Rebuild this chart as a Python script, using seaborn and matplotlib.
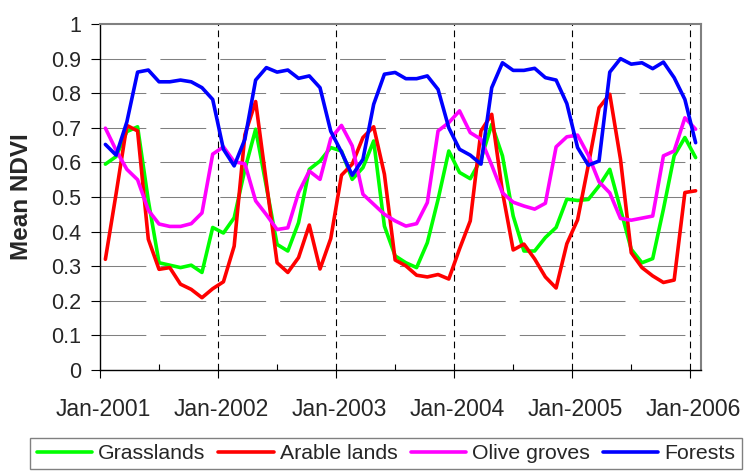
import matplotlib
matplotlib.use('Agg')
import numpy as np
import pandas as pd
import matplotlib.pyplot as plt
import matplotlib.transforms as mtransforms
import seaborn as sns

# Data (one value per category step) -------------------------------------------

grasslands = [0.595, 0.617, 0.689, 0.703, 0.49, 0.310, 0.303, 0.296, 0.303, 0.282, 0.412, 0.396,
              0.440, 0.58, 0.696, 0.53, 0.363, 0.344, 0.426, 0.580, 0.604, 0.643,
              0.633, 0.551, 0.585, 0.662, 0.416, 0.330, 0.310, 0.296, 0.368, 0.493, 0.633,
              0.571, 0.553, 0.609, 0.710, 0.619, 0.445, 0.344, 0.344, 0.383, 0.412, 0.494,
              0.490, 0.493, 0.532, 0.580, 0.465, 0.349, 0.310, 0.322, 0.465, 0.619, 0.672, 0.614]

arable = [0.320, 0.51, 0.707, 0.691, 0.378, 0.291, 0.296, 0.248, 0.233, 0.209, 0.235, 0.255,
          0.358, 0.68, 0.776, 0.542, 0.310, 0.282, 0.325, 0.419, 0.292, 0.38,
          0.563, 0.595, 0.672, 0.703, 0.566, 0.318, 0.301, 0.274, 0.269, 0.276, 0.263,
          0.35, 0.431, 0.691, 0.739, 0.515, 0.347, 0.364, 0.321, 0.269, 0.237, 0.365,
          0.434, 0.592, 0.758, 0.797, 0.609, 0.339, 0.296, 0.272, 0.253, 0.260, 0.513, 0.518]

olive = [0.699, 0.635, 0.58, 0.55, 0.462, 0.422, 0.415, 0.415, 0.423, 0.454, 0.624, 0.645,
         0.602, 0.596, 0.489, 0.449, 0.406, 0.411, 0.513, 0.575, 0.551, 0.669,
         0.707, 0.648, 0.508, 0.479, 0.450, 0.431, 0.416, 0.423, 0.484, 0.691, 0.715,
         0.749, 0.686, 0.667, 0.592, 0.512, 0.485, 0.474, 0.465, 0.482, 0.645, 0.674,
         0.679, 0.621, 0.544, 0.512, 0.438, 0.433, 0.439, 0.445, 0.619, 0.633, 0.729, 0.696]

forests = [0.652, 0.621, 0.717, 0.861, 0.867, 0.833, 0.833, 0.838, 0.833, 0.816, 0.782, 0.638,
           0.590, 0.667, 0.838, 0.874, 0.861, 0.867, 0.843, 0.850, 0.816, 0.69,
           0.63, 0.563, 0.609, 0.768, 0.855, 0.860, 0.842, 0.842, 0.850, 0.811, 0.70,
           0.638, 0.621, 0.595, 0.816, 0.888, 0.866, 0.866, 0.872, 0.845, 0.838, 0.77,
           0.643, 0.592, 0.604, 0.861, 0.900, 0.884, 0.888, 0.871, 0.890, 0.845, 0.782, 0.657]

series_names = ['Grasslands', 'Arable lands', 'Olive groves', 'Forests']
series_colors = ['#00ff00', '#ff0000', '#ff00ff', '#0000ff']

year_labels = ['Jan-2001', 'Jan-2002', 'Jan-2003', 'Jan-2004', 'Jan-2005', 'Jan-2006']
y_labels = ['0', '0.1', '0.2', '0.3', '0.4', '0.5', '0.6', '0.7', '0.8', '0.9', '1']

if __name__ == "__main__":

    sns.set_style('white')
    plt.rcParams['font.family'] = ['Liberation Sans', 'DejaVu Sans']

    # Long-form table for seaborn ---------------------------------------------
    n = len(grasslands)
    pos = np.arange(n) + 0.5   # category centres
    frames = []
    for name, vals in zip(series_names, [grasslands, arable, olive, forests]):
        frames.append(pd.DataFrame({'pos': pos, 'ndvi': vals, 'cover': name}))
    df = pd.concat(frames, ignore_index=True)

    fig = plt.figure(figsize=(7.47, 4.71), dpi=100)
    ax = fig.add_axes([0.1339, 0.2144, 0.8045, 0.7346])

    sns.lineplot(data=df, x='pos', y='ndvi', hue='cover', hue_order=series_names,
                 palette=series_colors, linewidth=2.6, ax=ax, zorder=3)

    ax.set_xlim(0, n)
    ax.set_ylim(0, 1)

    # dashed horizontal gridlines and year separators
    yt = np.linspace(0, 1, 11)
    for v in yt[1:-1]:
        ax.axhline(v, color='#808080', lw=0.75, dashes=(44, 13.5), zorder=1)
    year_ticks = [0, 11, 22, 33, 44, 55]
    for t in year_ticks[1:]:
        ax.axvline(t, color='black', lw=0.8, dashes=(6, 4), zorder=2)

    ax.set_yticks(yt)
    ax.set_yticklabels(y_labels)
    ax.set_xticks(year_ticks)
    ax.set_xticklabels(year_labels)
    ax.set_xticks([5.5, 16.5, 27.5, 38.5, 49.5], minor=True)

    ax.tick_params(axis='y', direction='out', length=6.5, width=0.8, pad=7,
                   labelsize=15.5, left=True, color='black')
    ax.tick_params(axis='x', which='major', direction='out', length=6, width=0.8,
                   pad=14, labelsize=16.5, bottom=True, color='black')
    ax.tick_params(axis='x', which='minor', direction='in', length=4, width=0.8,
                   bottom=True, color='black')
    # Excel puts the labels a touch right of the tick
    shift = mtransforms.ScaledTranslation(0.035, 0, fig.dpi_scale_trans)
    for lab in ax.get_xticklabels():
        lab.set_transform(lab.get_transform() + shift)

    ax.set_xlabel('')
    ax.set_ylabel('Mean NDVI', fontsize=17.5, fontweight='bold')
    ax.yaxis.set_label_coords(-0.112, 0.5)

    for side in ['left', 'bottom']:
        ax.spines[side].set_color('black')
        ax.spines[side].set_linewidth(1.0)
    for side in ['top', 'right']:
        ax.spines[side].set_color('#808080')
        ax.spines[side].set_linewidth(1.5)

    # Legend along the bottom -------------------------------------------------
    handles, labels = ax.get_legend_handles_labels()
    ax.get_legend().remove()
    leg = ax.legend(handles, labels, loc='center', ncol=4,
                    bbox_to_anchor=(386 / 747, 1 - 453.5 / 471),
                    bbox_transform=fig.transFigure, fontsize=15.3,
                    handlelength=2.6, handletextpad=0.3, columnspacing=0.6,
                    borderpad=0.3, frameon=True, fancybox=False)
    leg.get_frame().set_edgecolor('#808080')
    leg.get_frame().set_linewidth(1.0)
    leg.get_frame().set_alpha(1)

    fig.savefig('out.png', dpi=100)
